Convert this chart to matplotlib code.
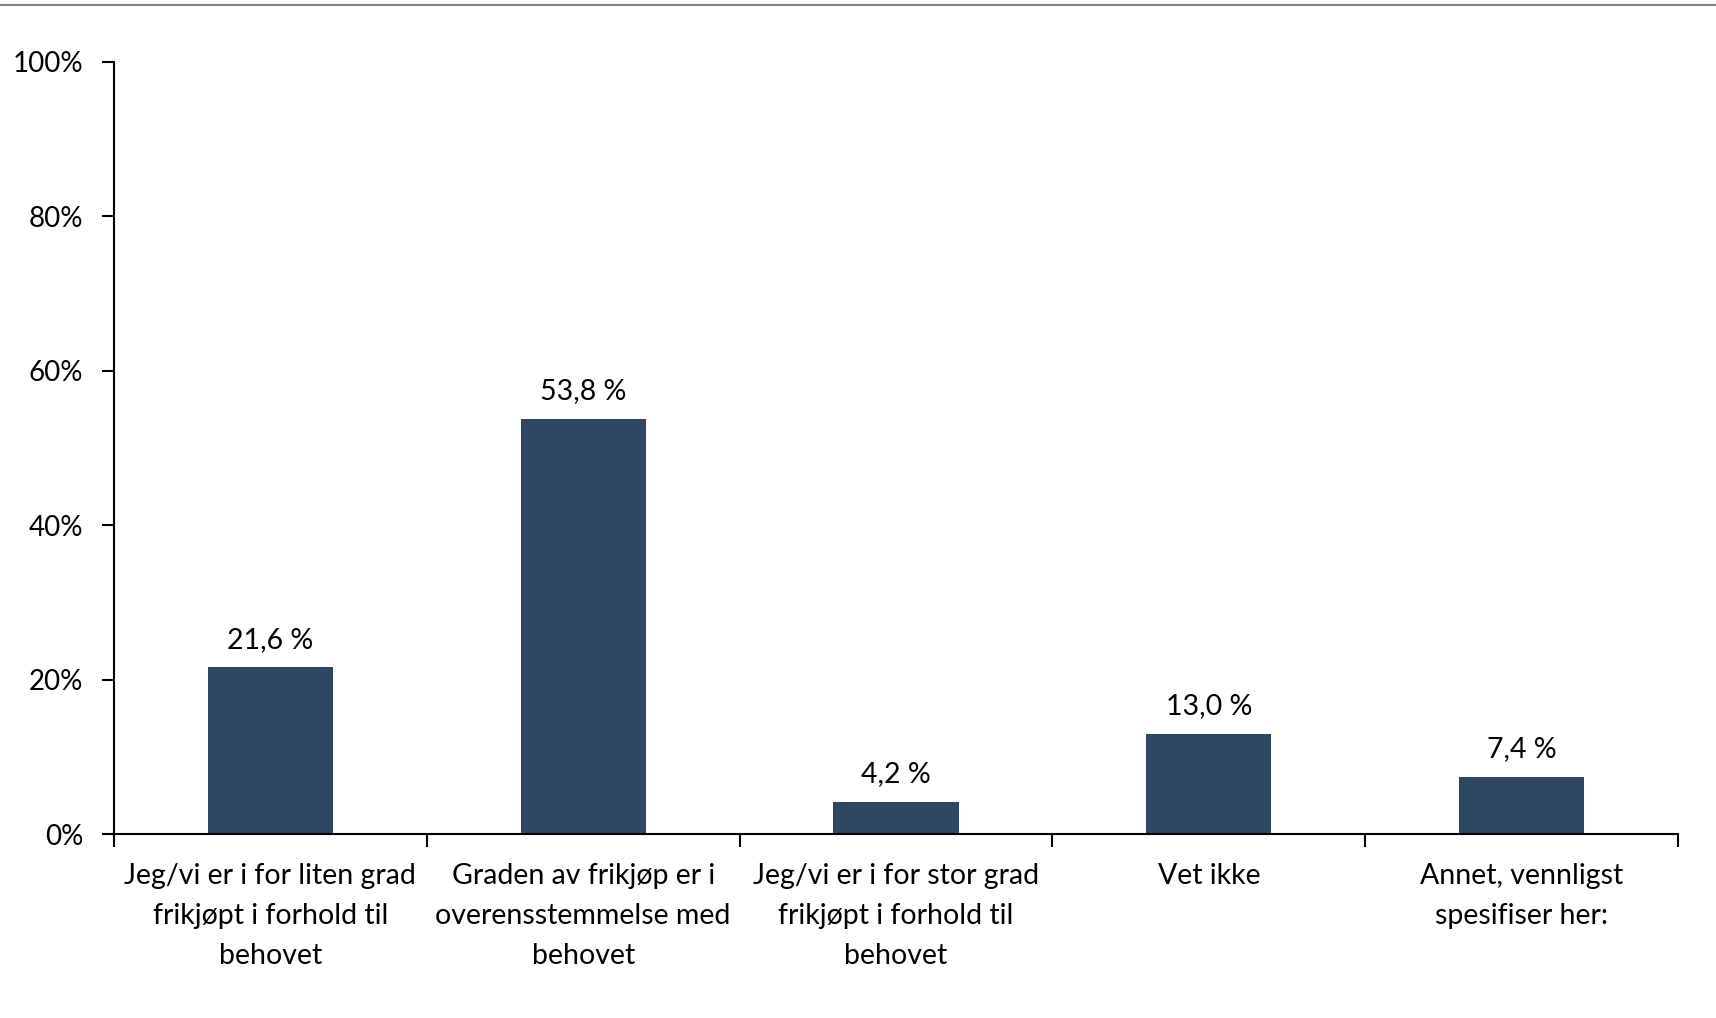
import matplotlib.pyplot as plt
from matplotlib.lines import Line2D

# ---------------------- Данные ----------------------
categories = [
    "Jeg/vi er i for liten grad\nfrikjøpt i forhold til\nbehovet",
    "Graden av frikjøp er i\noverensstemmelse med\nbehovet",
    "Jeg/vi er i for stor grad\nfrikjøpt i forhold til\nbehovet",
    "Vet ikke",
    "Annet, vennligst\nspesifiser her:",
]
values = [21.6, 53.8, 4.2, 13.0, 7.4]
yticks = [0, 20, 40, 60, 80, 100]

plt.rcParams['font.family'] = ['Lato', 'DejaVu Sans']

fig = plt.figure(figsize=(17.16, 10.18), dpi=100)
ax = fig.add_axes([0.0664, 0.1807, 0.9115, 0.7584])

x = list(range(len(values)))
bars = ax.bar(x, values, width=0.40, color='#2E4760')

for xi, v in zip(x, values):
    ax.text(xi, v + 1.9, f"{v:.1f} %".replace('.', ','), ha='center', va='bottom',
            fontsize=20.5, color='black')

ax.set_xlim(-0.5, len(values) - 0.5)
ax.set_ylim(0, 100)
ax.set_yticks(yticks)
ax.set_yticklabels([f"{t}%" for t in yticks], fontsize=20)
ax.set_xticks(x)
ax.set_xticklabels(categories, fontsize=20.5, linespacing=1.65)
ax.tick_params(axis='x', length=0, pad=21)
ax.tick_params(axis='y', length=9, width=1.5, pad=13)

# засечки между категориями
ax.set_xticks([i - 0.5 for i in range(len(values) + 1)], minor=True)
ax.tick_params(axis='x', which='minor', length=9, width=1.5, direction='out')

ax.spines['top'].set_visible(False)
ax.spines['right'].set_visible(False)
ax.spines['left'].set_linewidth(1.5)
ax.spines['bottom'].set_linewidth(1.5)

# серая линия сверху
fig.add_artist(Line2D([0, 1], [1 - 5 / 1018, 1 - 5 / 1018], color='#808080', linewidth=1.5,
                      transform=fig.transFigure))

fig.savefig('out.png', dpi=100)
